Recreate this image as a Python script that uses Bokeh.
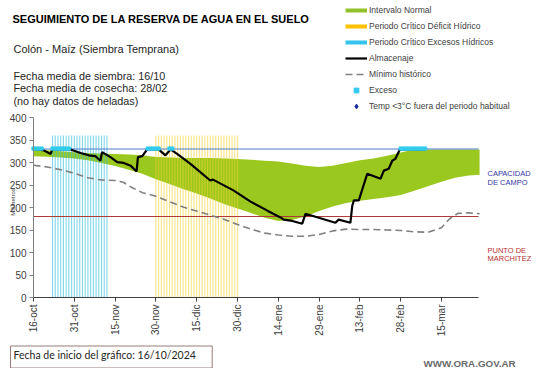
import math
from bokeh.plotting import figure
from bokeh.models import Range1d, FixedTicker, Label, Legend, LegendItem
from bokeh.embed import file_html
from bokeh.resources import INLINE

# ---------------- data (days since 16-oct-2024) ----------------
tick_days = [0, 15, 30, 45, 60, 75, 90, 105, 120, 135, 150]
tick_labels = ["16-oct", "31-oct", "15-nov", "30-nov", "15-dic", "30-dic",
               "14-ene", "29-ene", "13-feb", "28-feb", "15-mar"]
y_ticks = [0, 50, 100, 150, 200, 250, 300, 350, 400]
x_extent = [0, 163.6]
y_extent = [0, 400]

capacidad_campo = 330
punto_marchitez = 180

band_days = [0, 5, 10, 15, 20, 25, 30, 35, 40, 45, 50, 55, 60, 65, 70, 75, 80, 85,
             90, 95, 100, 105, 110, 115, 120, 125, 130, 135, 140, 145, 150, 155, 160, 164]
band_upper = [328, 327, 325, 323, 321, 320, 319, 318, 316, 312, 311, 310, 310, 310, 309, 308, 306, 304,
              302, 298, 293, 290, 293, 299, 305, 309, 315, 322, 329, 329, 329, 329, 329, 329]
band_lower = [314, 313, 311, 309, 305, 299, 292, 284, 275, 263, 252, 241, 231, 220, 208, 198, 188, 177,
              170, 172, 180, 192, 202, 210, 215, 219, 223, 228, 237, 247, 257, 266, 271, 273]

min_days = [0, 5, 10, 15, 20, 25, 30, 33, 36, 40, 45, 50, 55, 60, 65, 70, 75, 80, 85, 90,
            95, 100, 105, 110, 115, 120, 125, 130, 135, 140, 145, 150, 153, 156, 160, 164]
min_vals = [294, 290, 284, 276, 266, 261, 260, 256, 245, 233, 225, 213, 201, 192, 183, 174, 162, 152, 143, 139,
            136, 136, 140, 148, 152, 151, 151, 150, 149, 146, 145, 155, 175, 187, 188, 186]

alm_days = [0, 2, 3.8, 6.3, 6.9, 13.6, 17.3, 20.3, 22.8, 24.6, 25.2, 28.3, 30.8, 33.2, 35.7, 37.9,
            38.4, 40, 41.8, 46, 48.5, 50.4, 52.8, 57.7, 65, 66, 73.5, 79.8, 86, 90.8, 92, 94.5,
            98.8, 100, 105.5, 111, 112.2, 116.5, 117.2, 117.8, 119.6, 122.7, 127.6, 128.8, 130.6,
            131.9, 133, 134.7, 144]
alm_vals = [329, 329, 327, 319, 329, 329, 321, 316, 314, 304, 323, 312, 301, 299, 293, 280,
            312, 314, 329, 329, 316, 329, 319, 297, 260, 262, 238, 213, 193, 178, 173, 171,
            164, 186, 176, 166, 173, 166, 204, 216, 216, 275, 264, 282, 286,
            304, 308, 329, 329]

exceso_days = [0, 1, 2, 3, 7, 8, 9, 10, 11, 12, 13, 42, 43, 44, 45, 46, 50, 51,
               135, 136, 137, 138, 139, 140, 141, 142, 143, 144]
exceso_vals = [331, 331, 331, 331, 331, 331, 331, 331, 331, 331, 331, 331, 331, 331, 331, 331, 331, 331,
               331, 331, 331, 331, 331, 331, 331, 331, 331, 331]

exceso_crit_days = [7, 8, 9, 10, 11, 12, 13, 14, 15, 16, 17, 18, 19, 20, 21, 22, 23, 24, 25, 26, 27]
exceso_crit_vals = [360, 360, 360, 360, 360, 360, 360, 360, 360, 360, 360,
                    360, 360, 360, 360, 360, 360, 360, 360, 360, 360]
deficit_crit_days = [45, 46, 47, 48, 49, 50, 51, 52, 53, 54, 55, 56, 57, 58, 59, 60, 61, 62, 63, 64,
                     65, 66, 67, 68, 69, 70, 71, 72, 73, 74, 75]
deficit_crit_vals = [360, 360, 360, 360, 360, 360, 360, 360, 360, 360, 360, 360, 360, 360, 360, 360,
                     360, 360, 360, 360, 360, 360, 360, 360, 360, 360, 360, 360, 360, 360, 360]

# frost points: none in this period
helada_days = [float("nan")]
helada_vals = [float("nan")]

# ---------------- geometry helpers (page px -> data) ----------------
PX0, PXD = 33.0, 2.72      # page x of day 0, px per day
PY0, PYM = 297.0, 0.45     # page y of 0 mm, px per mm


def dx(px):
    return (px - PX0) / PXD


def dy(py):
    return (PY0 - py) / PYM


W, H = 541, 368
FONT = "Liberation Sans"
p = figure(width=W, height=H, min_border=0,
           x_range=Range1d(dx(0), dx(W)), y_range=Range1d(dy(H), dy(0)),
           output_backend="svg", toolbar_location=None)
p.title.visible = False
p.grid.visible = False
p.outline_line_color = None
p.background_fill_color = "white"
p.border_fill_color = "white"

GREEN = "#9BC81E"
YELLOW = "#F2D230"
CYAN = "#35BEE0"
NAN = [float("nan")]

p.varea(x=band_days, y1=band_lower, y2=band_upper, fill_color=GREEN)
p.vbar(x=exceso_crit_days, top=exceso_crit_vals, bottom=0, width=0.42,
       fill_color=CYAN, fill_alpha=0.6, line_color=None)
p.vbar(x=deficit_crit_days, top=deficit_crit_vals, bottom=0, width=0.42,
       fill_color=YELLOW, fill_alpha=0.55, line_color=None)

p.line(x_extent, [capacidad_campo, capacidad_campo], line_color="#4F7BC8", line_width=1)
p.line(x_extent, [punto_marchitez, punto_marchitez], line_color="#B03A3A", line_width=1)

mn = p.line(min_days, min_vals, line_color="#808080", line_width=1.6, line_dash="7 4")
alm = p.line(alm_days, alm_vals, line_color="black", line_width=2.2)
exc = p.scatter(exceso_days, exceso_vals, marker="square", size=3.2,
                fill_color="#33CCEE", line_color="#33CCEE")
temp = p.scatter(helada_days, helada_vals, marker="diamond", size=7,
                 fill_color="#1F2FA0", line_color="#1F2FA0")

# legend swatch renderers (no visible data)
d_green = p.line(NAN, NAN, line_color="#92C02A", line_width=4)
d_yellow = p.line(NAN, NAN, line_color="#FFC000", line_width=4)
d_cyan = p.line(NAN, NAN, line_color="#33C3EE", line_width=4)

legend = Legend(items=[
    LegendItem(label="Intervalo Normal", renderers=[d_green]),
    LegendItem(label="Periodo Crítico Déficit Hídrico", renderers=[d_yellow]),
    LegendItem(label="Periodo Crítico Excesos Hídricos", renderers=[d_cyan]),
    LegendItem(label="Almacenaje", renderers=[alm]),
    LegendItem(label="Mínimo histórico", renderers=[mn]),
    LegendItem(label="Exceso", renderers=[exc]),
    LegendItem(label="Temp <3°C fuera del periodo habitual", renderers=[temp]),
], location=(345, H - 112))
legend.glyph_width = 22
legend.glyph_height = 12
legend.label_height = 12
legend.spacing = 4
legend.padding = 0
legend.margin = 0
legend.label_standoff = 2
legend.border_line_color = None
legend.background_fill_alpha = 0
legend.label_text_font = FONT
legend.label_text_font_size = "8.5px"
legend.label_text_color = "#404040"
p.add_layout(legend)

# axes drawn at data zero, spanning only the chart extents
xa, ya = p.xaxis[0], p.yaxis[0]
xa.fixed_location = 0
ya.fixed_location = 0
xa.bounds = tuple(x_extent)
ya.bounds = tuple(y_extent)
xa.ticker = FixedTicker(ticks=tick_days)
xa.major_label_overrides = {d: l for d, l in zip(tick_days, tick_labels)}
xa.major_label_orientation = math.pi / 2
ya.ticker = FixedTicker(ticks=y_ticks)
for ax in (xa, ya):
    ax.minor_tick_line_color = None
    ax.major_tick_in = 0
    ax.major_tick_out = 4
    ax.major_label_text_font = FONT
    ax.major_label_text_font_size = "10px"
    ax.major_label_text_color = "#404040"
    ax.major_label_standoff = 3
    ax.axis_line_color = "#808080"
    ax.major_tick_line_color = "#808080"
xa.axis_line_color = "#404040"
xa.major_tick_line_color = "#404040"


def txt(text, px, py, size, color="#1a1a1a", bold=False, font=FONT, align="left",
        baseline="alphabetic", angle=0, **kw):
    lab = Label(x=dx(px), y=dy(py), text=text, text_font=font, text_font_size=size,
                text_color=color, text_align=align, text_baseline=baseline, angle=angle,
                text_font_style="bold" if bold else "normal", **kw)
    p.add_layout(lab)
    return lab


txt("SEGUIMIENTO DE LA RESERVA DE AGUA  EN EL SUELO", 12, 18.5, "11px", color="black", bold=True)
txt("Colón - Maíz (Siembra Temprana)", 13, 48, "11px", color="#262626")
txt("Fecha media de siembra: 16/10", 13, 75, "10.8px", color="#262626")
txt("Fecha media de cosecha: 28/02", 13, 87.5, "10.8px", color="#262626")
txt("(no hay  datos de heladas)", 13, 100, "10.8px", color="#262626")

txt("Milímetros", 12, 201.5, "6px", color="#404040", align="center", baseline="middle",
    angle=math.pi / 2)

txt("CAPACIDAD", 487, 172.5, "7.5px", color="#3434A8")
txt("DE  CAMPO", 487, 181.5, "7.5px", color="#3434A8")
txt("PUNTO   DE", 487, 249.5, "7.5px", color="#B83030")
txt("MARCHITEZ", 487, 257.5, "7.5px", color="#B83030")

txt("Fecha de inicio del gráfico:   16/10/2024", 10, 356.5, "10.5px", color="#262626",
    font="Lato", baseline="middle", border_line_color="#9A7C7C", border_line_width=1,
    background_fill_color="white", padding=(3, 11, 3, 7))

txt("WWW.ORA.GOV.AR", 423, 363, "9.8px", color="#6A6A6A", bold=True)

open("out.html", "w").write(file_html(p, INLINE))
